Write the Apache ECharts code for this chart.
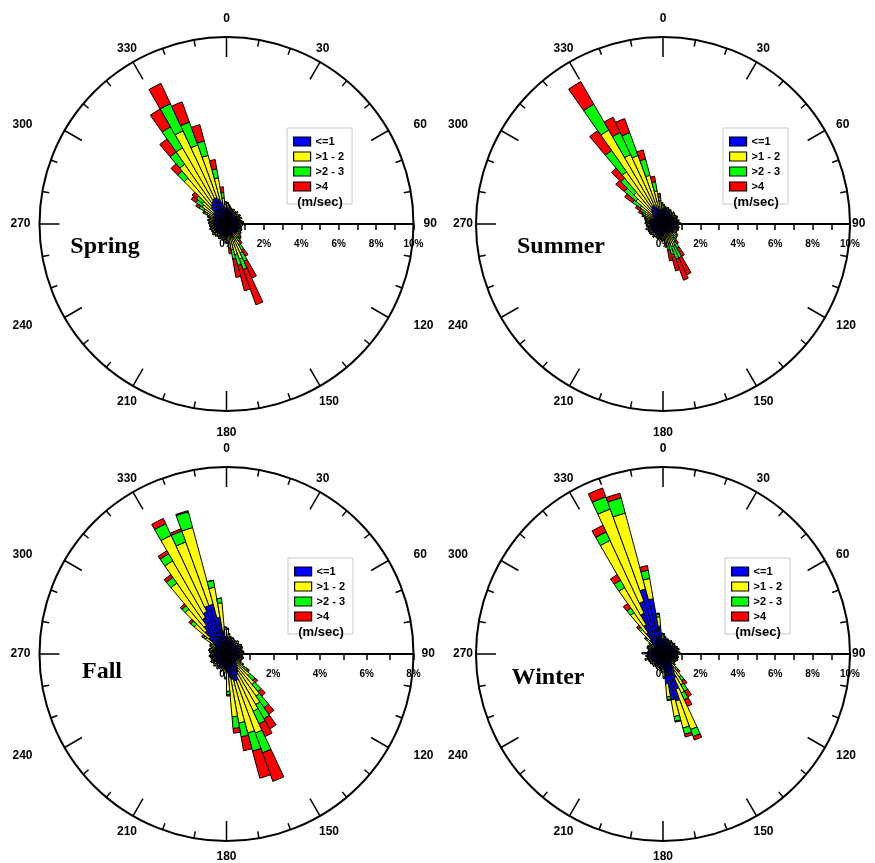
<!DOCTYPE html>
<html><head><meta charset="utf-8">
<script src="https://cdn.jsdelivr.net/npm/echarts@6/dist/echarts.min.js"></script>
<style>html,body{margin:0;padding:0;background:#fff}#c{width:875px;height:863px}</style>
</head><body><div id="c"></div>
<script>
// Direction bins (start angle of each 5-degree sector, clockwise from north)
const dirBins = [0,5,10,15,20,25,30,35,40,45,50,55,60,65,70,75,80,85,90,95,100,105,110,115,
  120,125,130,135,140,145,150,155,160,165,170,175,180,185,190,195,200,205,210,215,220,225,230,235,
  240,245,250,255,260,265,270,275,280,285,290,295,300,305,310,315,320,325,330,335,340,345,350,355];
const speedClasses = ['<=1', '>1 - 2', '>2 - 3', '>4'];
const classColors = ['#0000ff', '#ffff00', '#00ff00', '#ff0000'];
const seasonNames = ['Spring', 'Summer', 'Fall', 'Winter'];
const radiusMax = [10, 10, 8, 10];
const angleTickLabels = ['0','30','60','90','120','150','180','210','240','270','300','330'];

// ---------- Spring (%) ----------
const springBlue = [
 .9,.85,.8,.75,.7,.75,.65,.7,.75,.65,.7,.75,
 .7,.75,.65,.7,.8,.7,.75,.65,.7,.7,.75,.7,
 .75,.7,.75,.7,.6,.7,.8,.8,.7,.6,.6,.7,
 .8,.7,.75,.65,.7,.75,.7,.65,.75,.7,.8,.7,
 .75,.7,.8,.7,.75,.7,.8,.75,.8,.7,.75,.8,
 .8,.9,.9,1.2,1.3,1.4,1.5,1.5,1.4,1.2,.9,.85];
const springYellow = [
 .2,.15,.12,.1,.1,.1,.08,.08,.1,.08,.08,.1,
 .08,.1,.08,.1,.1,.08,.1,.08,.1,.1,.1,.12,
 .12,.15,.2,.25,.3,.6,.9,1.2,1.0,.8,.4,.2,
 .15,.12,.1,.1,.12,.1,.1,.12,.1,.12,.1,.12,
 .1,.12,.1,.15,.12,.15,.12,.15,.15,.18,.2,.35,
 .6,.7,.8,2.0,2.6,3.3,4.0,3.0,2.4,1.3,.5,.2];
const springGreen = [
 .05,.03,.02,.02,.02,.02,.02,.02,.02,.02,.02,.02,
 .02,.02,.02,.02,.02,.02,.02,.02,.02,.02,.02,.03,
 .03,.05,.05,.1,.2,.3,.5,.6,.6,.5,.3,.1,
 .05,.03,.02,.02,.02,.02,.02,.02,.02,.02,.02,.02,
 .02,.02,.02,.02,.02,.03,.03,.03,.05,.05,.1,.15,
 .3,.4,.4,.5,.8,1.3,1.6,1.3,.8,.5,.3,.1];
const springRed = [
 .02,0,0,0,0,0,0,0,0,0,0,0,
 0,0,0,0,0,0,0,0,0,0,0,0,
 0,.02,.03,.05,.2,.4,1.0,2.0,1.4,1.0,.3,.05,
 .02,0,0,0,0,0,0,0,0,0,0,0,
 0,0,0,0,0,0,0,0,.02,.03,.05,.1,
 .2,.3,.3,.5,.85,1.1,1.2,1.15,.9,.5,.3,.05];

// ---------- Summer (%) ----------
const summerBlue = [
 .85,.8,.75,.8,.7,.75,.7,.65,.75,.7,.65,.7,
 .75,.7,.65,.75,.7,.8,.7,.65,.75,.7,.75,.7,
 .7,.75,.7,.65,.6,.6,.6,.6,.5,.5,.55,.65,
 .75,.7,.65,.75,.7,.65,.7,.75,.65,.7,.75,.7,
 .75,.7,.8,.7,.75,.7,.8,.7,.75,.7,.75,.7,
 .6,.7,.8,.9,1.0,1.1,1.1,1.0,.9,.8,.75,.8];
const summerYellow = [
 .15,.12,.1,.1,.08,.1,.08,.1,.08,.1,.08,.1,
 .1,.08,.1,.1,.08,.1,.1,.08,.1,.1,.1,.1,
 .12,.15,.18,.2,.3,.5,.7,.7,.6,.5,.3,.15,
 .12,.1,.1,.08,.1,.1,.08,.1,.1,.1,.1,.12,
 .1,.12,.12,.1,.12,.15,.12,.15,.15,.2,.25,.35,
 .5,.8,1.1,1.3,2.4,4.7,3.0,2.9,1.8,1.0,.5,.2];
const summerGreen = [
 .03,.02,.02,.02,.02,.02,.02,.02,.02,.02,.02,.02,
 .02,.02,.02,.02,.02,.02,.02,.02,.02,.02,.02,.02,
 .03,.05,.08,.1,.2,.4,.7,.7,.6,.4,.2,.05,
 .03,.02,.02,.02,.02,.02,.02,.02,.02,.02,.02,.02,
 .02,.02,.02,.02,.02,.03,.03,.05,.05,.08,.1,.2,
 .3,.5,.8,1.0,1.4,1.6,1.3,1.3,.9,.5,.2,.1];
const summerRed = [
 0,0,0,0,0,0,0,0,0,0,0,0,
 0,0,0,0,0,0,0,0,0,0,0,0,
 0,.02,.05,.1,.2,.5,1.0,1.2,.9,.6,.2,.05,
 0,0,0,0,0,0,0,0,0,0,0,0,
 0,0,0,0,0,0,0,.02,.03,.05,.1,.2,
 .3,.5,.6,.7,1.3,1.4,.9,.8,.5,.3,.2,.05];

// ---------- Fall (%) ----------
const fallBlue = [
 .75,.7,.65,.6,.65,.6,.55,.6,.65,.55,.6,.65,
 .6,.65,.55,.6,.65,.6,.55,.6,.65,.6,.55,.5,
 .5,.5,.6,.7,.8,.9,1.0,1.2,1.2,1.1,1.0,.8,
 .7,.65,.6,.65,.55,.6,.65,.55,.6,.65,.55,.6,
 .65,.6,.55,.6,.65,.6,.55,.6,.65,.6,.55,.6,
 .55,.7,1.0,1.3,1.5,1.8,2.0,2.2,2.2,1.6,1.0,.75];
const fallYellow = [
 .3,.15,.1,.1,.08,.08,.08,.08,.08,.08,.08,.08,
 .08,.08,.08,.08,.08,.08,.08,.08,.08,.08,.1,.12,
 .2,.4,.7,1.0,1.4,1.6,1.7,2.4,2.3,1.9,1.7,.8,
 .3,.15,.1,.1,.08,.08,.08,.08,.08,.08,.08,.08,
 .08,.08,.08,.08,.08,.08,.1,.1,.1,.12,.12,.15,
 .2,.4,.8,1.2,2.2,2.8,3.6,2.9,3.4,1.3,1.2,.3];
const fallGreen = [
 .05,.02,.02,.02,.01,.01,.01,.01,.01,.01,.01,.01,
 .01,.01,.01,.01,.01,.01,.01,.01,.01,.02,.03,.05,
 .1,.2,.3,.4,.6,.7,.6,.9,.8,.6,.5,.15,
 .05,.02,.02,.01,.01,.01,.01,.01,.01,.01,.01,.01,
 .01,.01,.01,.01,.01,.01,.02,.02,.02,.03,.03,.04,
 .05,.1,.2,.2,.3,.35,.55,.5,.7,.3,.2,.1];
const fallRed = [
 0,0,0,0,0,0,0,0,0,0,0,0,
 0,0,0,0,0,0,0,0,0,0,0,.02,
 .05,.1,.15,.25,.35,.5,.6,1.3,1.2,.6,.2,.05,
 .02,0,0,0,0,0,0,0,0,0,0,0,
 0,0,0,0,0,0,0,0,0,0,0,0,
 .02,.1,.1,.1,.15,.15,.25,.1,.05,0,0,0];

// ---------- Winter (%) ----------
const winterBlue = [
 .85,.8,.7,.75,.7,.65,.75,.7,.65,.75,.7,.65,
 .75,.7,.8,.7,.75,.8,.7,.65,.75,.7,.75,.7,
 .65,.6,.6,.7,.9,1.1,1.4,2.0,2.6,2.5,1.6,.8,
 .8,.75,.7,.65,.75,.7,.65,.75,.7,.65,.75,.7,
 .75,.7,.9,.75,.8,.7,1.0,.7,.65,.7,.75,.7,
 .6,.6,.8,1.0,1.4,1.8,2.4,3.0,3.6,3.0,1.5,.8];
const winterYellow = [
 .2,.12,.1,.08,.08,.08,.08,.08,.08,.08,.08,.08,
 .08,.08,.08,.08,.1,.1,.08,.08,.08,.08,.08,.08,
 .1,.1,.15,.3,.6,.8,.9,2.3,1.5,.9,.7,.4,
 .15,.1,.08,.08,.08,.08,.08,.08,.08,.08,.08,.08,
 .08,.08,.08,.08,.1,.1,.1,.1,.1,.1,.12,.15,
 .15,.2,.3,.7,1.3,2.3,4.3,5.25,4.2,1.1,.5,.2];
const winterGreen = [
 .03,.02,.01,.01,.01,.01,.01,.01,.01,.01,.01,.01,
 .01,.01,.01,.01,.01,.01,.01,.01,.01,.01,.01,.01,
 .02,.05,.08,.15,.25,.4,.4,.4,.35,.25,.15,.1,
 .03,.01,.01,.01,.01,.01,.01,.01,.01,.01,.01,.01,
 .01,.01,.01,.01,.01,.01,.01,.01,.02,.02,.03,.05,
 .05,.08,.1,.15,.3,.45,.5,.7,.85,.45,.15,.1];
const winterRed = [
 0,0,0,0,0,0,0,0,0,0,0,0,
 0,0,0,0,0,0,0,0,0,0,0,0,
 0,.02,.05,.15,.25,.35,.4,.2,.15,.05,.05,0,
 0,0,0,0,0,0,0,0,0,0,0,0,
 0,0,0,0,0,0,0,0,0,0,.02,.03,
 .03,.05,.1,.15,.3,.35,.4,.5,.25,.25,.05,.02];

const seasonData = [
  [springBlue, springYellow, springGreen, springRed],
  [summerBlue, summerYellow, summerGreen, summerRed],
  [fallBlue, fallYellow, fallGreen, fallRed],
  [winterBlue, winterYellow, winterGreen, winterRed]
];

// ---------- layout ----------
const R = 187;
const layout = [
  {cx: 226.5, cy: 224, tx: 105, ty: 247, lx: 287, ly: 128},
  {cx: 663,   cy: 224, tx: 561, ty: 247, lx: 723, ly: 128},
  {cx: 226.5, cy: 654, tx: 102, ty: 672, lx: 288, ly: 558},
  {cx: 663,   cy: 654, tx: 548, ty: 678, lx: 725, ly: 558}
];
const SANS = '"Liberation Sans", Arial, sans-serif';
const SERIF = '"Liberation Serif", "Times New Roman", serif';

// per-panel nudges of the compass labels [top, right, bottom, left]
const labelPads = [
  { '0': [0,0,20,0], '30': [0,0,14,0], '60': [0,0,4,32], '90': [0,0,0,18],
    '120': [6,0,0,32], '150': [17,0,0,3], '180': [24,0,0,0], '210': [17,0,0,0],
    '240': [6,39,0,0], '270': [0,17,0,0], '300': [0,39,4,0], '330': [0,0,14,0] },
  { '0': [0,0,20,0], '30': [0,0,14,4], '60': [0,0,4,18], '90': [0,0,0,10],
    '120': [6,0,0,18], '150': [17,0,0,1], '180': [24,0,0,0], '210': [17,0,0,0],
    '240': [6,40,0,0], '270': [0,11,0,0], '300': [0,40,4,0], '330': [0,0,14,0] },
  { '0': [0,0,20,0], '30': [0,0,14,0], '60': [0,0,4,32], '90': [0,0,0,16],
    '120': [6,0,0,32], '150': [17,0,0,3], '180': [18,0,0,0], '210': [17,0,0,0],
    '240': [6,39,0,0], '270': [0,17,0,0], '300': [0,39,4,0], '330': [0,0,14,0] },
  { '0': [0,0,20,0], '30': [0,0,14,4], '60': [0,0,4,18], '90': [0,0,0,10],
    '120': [6,0,0,18], '150': [17,0,0,1], '180': [18,0,0,0], '210': [17,0,0,0],
    '240': [6,40,0,0], '270': [0,11,0,0], '300': [0,40,4,0], '330': [0,0,14,0] }
];

const option = {
  animation: false,
  backgroundColor: '#ffffff',
  polar: [], angleAxis: [], radiusAxis: [], grid: [], xAxis: [], yAxis: [],
  series: [], legend: [], graphic: []
};

seasonNames.forEach((season, i) => {
  const L = layout[i];
  const pb = i * 2, pa = i * 2 + 1;
  const rich = {};
  angleTickLabels.forEach(s => {
    rich['a' + s] = {padding: labelPads[i][s], fontWeight: 'bold', fontSize: 12, fontFamily: SANS, color: '#000'};
  });
  option.polar.push({center: [L.cx, L.cy], radius: [0, R]});
  option.polar.push({center: [L.cx, L.cy], radius: [0, R]});
  // hidden axes for bars
  option.angleAxis.push({
    polarIndex: pb, type: 'category', data: dirBins, startAngle: 90, clockwise: true,
    boundaryGap: true, show: false,
    axisLine: {show: false}, axisTick: {show: false}, axisLabel: {show: false}, splitLine: {show: false}
  });
  option.radiusAxis.push({
    polarIndex: pb, type: 'value', min: 0, max: radiusMax[i], show: false,
    axisLine: {show: false}, axisTick: {show: false}, axisLabel: {show: false}, splitLine: {show: false}
  });
  // visible compass axis
  option.angleAxis.push({
    polarIndex: pa, type: 'value', min: 90, max: 450, interval: 30, startAngle: 0, clockwise: true,
    axisLine: {show: true, lineStyle: {color: '#000', width: 2}},
    axisTick: {show: true, inside: true, length: 20, lineStyle: {color: '#000', width: 1.5}},
    minorTick: {show: true, splitNumber: 3, length: 7, lineStyle: {color: '#000', width: 1.5}},
    axisLabel: {show: true, margin: -8,
      formatter: v => { const s = String(v % 360); return '{a' + s + '|' + s + '}'; },
      color: '#000', fontWeight: 'bold', fontSize: 12, fontFamily: SANS, rich: rich},
    splitLine: {show: false}, minorSplitLine: {show: false}
  });
  option.radiusAxis.push({
    polarIndex: pa, type: 'value', min: 0, max: radiusMax[i], show: false,
    axisLine: {show: false}, axisTick: {show: false}, axisLabel: {show: false}, splitLine: {show: false}
  });
  // speed scale drawn along the 90-degree direction
  option.grid.push({left: L.cx, top: L.cy - 20, width: R, height: 20, containLabel: false});
  option.xAxis.push({
    gridIndex: i, type: 'value', min: 0, max: radiusMax[i], interval: 1, position: 'bottom',
    axisLine: {show: true, lineStyle: {color: '#000', width: 2}},
    axisTick: {show: true, length: 6, lineStyle: {color: '#000', width: 1.5}},
    axisLabel: {show: true, margin: 15, formatter: v => (Math.round(v) % 2 === 0 ? Math.round(v) + '%' : ''),
      color: '#000', fontWeight: 'bold', fontSize: 10, fontFamily: SANS, showMinLabel: true, showMaxLabel: true},
    splitLine: {show: false}
  });
  option.yAxis.push({gridIndex: i, type: 'value', min: 0, max: 1, show: false});
  speedClasses.forEach((name, j) => {
    option.series.push({
      type: 'bar', coordinateSystem: 'polar', polarIndex: pb, name: name, stack: 'st' + i,
      data: seasonData[i][j], barCategoryGap: '0%', z: 3,
      itemStyle: {color: classColors[j], borderColor: '#000', borderWidth: 1}
    });
  });
  option.legend.push({
    left: L.lx, top: L.ly, orient: 'vertical', data: speedClasses, icon: 'rect',
    itemWidth: 17, itemHeight: 9, itemGap: 4, padding: [8, 8, 12, 6],
    borderColor: '#c8c8c8', borderWidth: 1, backgroundColor: '#fff', selectedMode: false,
    itemStyle: {borderColor: '#000', borderWidth: 1.2},
    textStyle: {fontWeight: 'bold', fontSize: 11, color: '#000', fontFamily: SANS}
  });
  option.graphic.push({
    type: 'text', x: L.lx + 33, y: L.ly + 74, z: 10,
    style: {text: '(m/sec)', fill: '#000', font: 'bold 13px ' + SANS, textAlign: 'center', textVerticalAlign: 'middle'}
  });
  option.graphic.push({
    type: 'text', x: L.tx, y: L.ty, z: 10,
    style: {text: season, fill: '#000', font: 'bold 24px ' + SERIF, textAlign: 'center', textVerticalAlign: 'middle'}
  });
});

const chart = echarts.init(document.getElementById('c'), null, {renderer: 'canvas'});
chart.setOption(option);
</script>
</body></html>
